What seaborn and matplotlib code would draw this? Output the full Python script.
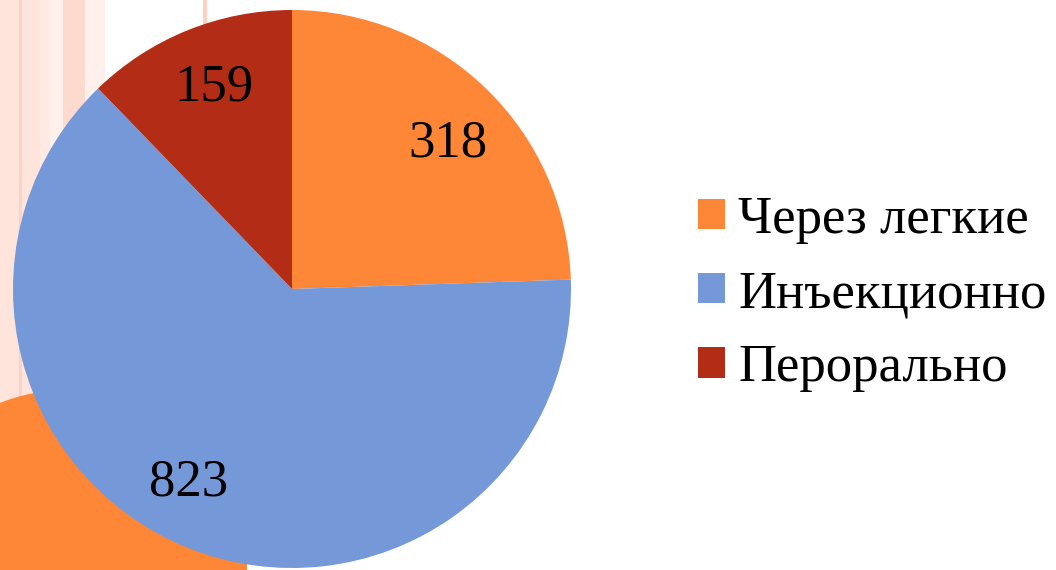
import matplotlib
matplotlib.use("Agg")
import matplotlib.pyplot as plt
from matplotlib.patches import Rectangle, Circle
import seaborn as sns

# data
labels = ["Через легкие", "Инъекционно", "Перорально"]
values = [318, 823, 159]
colors = ["#FE8637", "#7598D8", "#B32C16"]
# small nudges of the value labels (pie radius units)
label_nudge = [(0.018, -0.038), (-0.079, 0.029), (0.011, 0.0)]

sns.set_theme(style="white")
plt.rcParams["font.family"] = ["Liberation Serif", "DejaVu Serif"]
plt.rcParams["text.color"] = "black"

W, H = 1056, 570
fig = plt.figure(figsize=(W / 100, H / 100), dpi=100)
fig.patch.set_facecolor("white")

# slide background decoration (pixel coords, y from top)
bg = fig.add_axes([0, 0, 1, 1])
bg.set_xlim(0, W)
bg.set_ylim(H, 0)
bg.axis("off")
stripes = [
    (0, 19, "#FEE4DB"), (19, 22, "#FDD3C5"), (22, 40, "#FEE4DB"),
    (40, 50, "#FFEAE3"), (50, 63, "#FFF0EC"), (63, 85, "#FDDACE"),
    (85, 105, "#FFF0EC"),
]
for x0, x1, c in stripes:
    bg.add_patch(Rectangle((x0, 0), x1 - x0, H, color=c, lw=0))
bg.add_patch(Rectangle((203, 0), 4, 40, color="#FDD0C2", lw=0))
bg.add_patch(Circle((67, 570), 180, color="#FE8637", lw=0))

# pie
cx, cy, r = 292, 281, 279
ax = fig.add_axes([(cx - r) / W, (cy - r) / H, 2 * r / W, 2 * r / H])
wedges, texts, autotexts = ax.pie(
    values, colors=colors, startangle=90, counterclock=False, radius=1,
    autopct=lambda p: f"{p * sum(values) / 100:.0f}", pctdistance=0.78,
    textprops=dict(fontsize=38, color="black"),
    wedgeprops=dict(linewidth=0),
)
for t, (dx, dy) in zip(autotexts, label_nudge):
    x, y = t.get_position()
    t.set_position((x + dx, y + dy))
ax.set_xlim(-1, 1)
ax.set_ylim(-1, 1)
ax.set_aspect("equal")
ax.axis("off")

fig.legend(
    wedges, labels, loc="center left", bbox_to_anchor=(698 / W, 276 / H),
    frameon=False, fontsize=38, handlelength=0.51, handleheight=0.51,
    handletextpad=0.25, labelspacing=0.5, borderpad=0, borderaxespad=0,
    labelcolor="black",
)

fig.savefig("out.png", dpi=100, facecolor="white")
